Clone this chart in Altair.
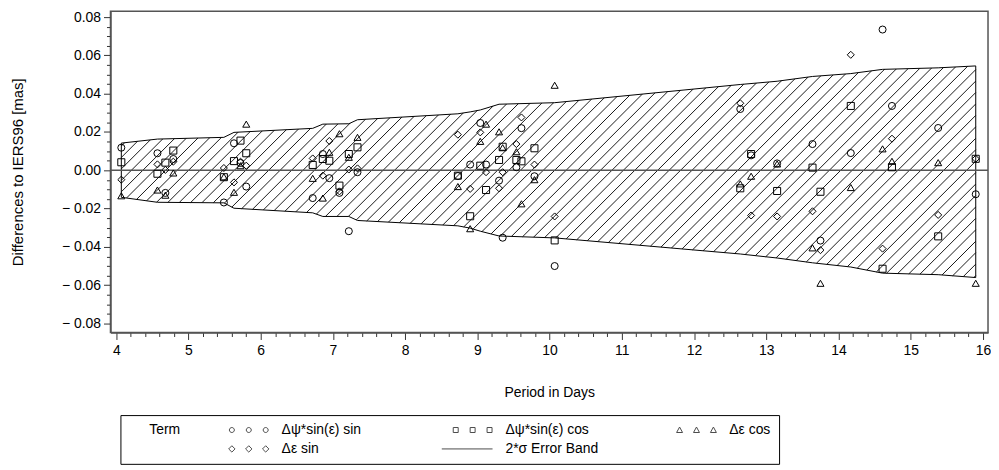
import altair as alt
import numpy as np
import pandas as pd

# ---------------- data ----------------
terms = ["Δψ*sin(ε) sin", "Δψ*sin(ε) cos", "Δε cos", "Δε sin"]

period = [4.07, 4.57, 4.68, 4.79, 5.49, 5.63, 5.72, 5.80, 6.72, 6.86, 6.95, 7.09,
          7.22, 7.34, 8.73, 8.90, 9.04, 9.12, 9.30, 9.35, 9.54, 9.61, 9.79, 10.07,
          12.64, 12.79, 13.15, 13.64, 13.75, 14.17, 14.61, 14.74, 15.38, 15.90]

dpsi_sin = [0.0118, 0.0089, -0.0118, 0.0059, -0.0168, 0.0141, 0.0038, -0.0085,
            -0.0145, 0.0085, -0.0041, -0.0118, -0.0318, -0.0010, -0.0030, 0.0030,
            0.0247, 0.0030, -0.0054, -0.0352, 0.0016, 0.0220, -0.0031, -0.0500,
            0.0320, 0.0078, 0.0036, 0.0137, -0.0367, 0.0090, 0.0735, 0.0336,
            0.0221, -0.0125]

dpsi_cos = [0.0042, -0.0018, 0.0040, 0.0103, -0.0036, 0.0048, 0.0155, 0.0089,
            0.0028, 0.0059, 0.0050, -0.0080, 0.0085, 0.0120, -0.0028, -0.0240,
            0.0024, -0.0103, 0.0054, 0.0123, 0.0054, 0.0047, 0.0115, -0.0366,
            -0.0094, 0.0085, -0.0108, 0.0014, -0.0112, 0.0336, -0.0514, 0.0016,
            -0.0345, 0.0060]

deps_cos = [-0.0133, -0.0103, -0.0130, -0.0014, -0.0034, -0.0115, 0.0024, 0.0241,
            -0.0042, -0.0145, 0.0094, 0.0191, 0.0068, 0.0172, -0.0085, -0.0305,
            0.0151, 0.0241, 0.0201, 0.0118, 0.0097, -0.0175, -0.0049, 0.0444,
            -0.0071, -0.0031, 0.0033, -0.0405, -0.0590, -0.0090, 0.0112, 0.0047,
            0.0040, -0.0590]

deps_sin = [-0.0049, 0.0031, 0.0002, 0.0045, 0.0012, -0.0063, 0.0045, 0.0024,
            0.0062, -0.0028, 0.0153, -0.0110, 0.0004, 0.0010, 0.0186, -0.0097,
            0.0198, -0.0010, -0.0094, -0.0010, 0.0137, 0.0276, 0.0030, -0.0241,
            0.0350, -0.0236, -0.0241, -0.0214, -0.0417, 0.0603, -0.0409, 0.0165,
            -0.0233, 0.0060]

band_x = [4.07, 4.57, 5.49, 5.63, 6.72, 6.86, 7.22, 7.34, 8.73, 8.90, 9.04, 9.30,
          10.07, 12.64, 13.15, 13.64, 14.17, 14.61, 15.38, 15.90]
band_upper = [0.0142, 0.0163, 0.0172, 0.0198, 0.0219, 0.0241, 0.0243, 0.0264, 0.0295,
              0.0305, 0.0315, 0.0345, 0.0353, 0.0448, 0.0465, 0.0490, 0.0505, 0.0527,
              0.0535, 0.0545]
band_lower = [-0.0141, -0.0167, -0.0170, -0.0198, -0.0222, -0.0241, -0.0241, -0.0262,
              -0.0290, -0.0302, -0.0318, -0.0343, -0.0353, -0.0437, -0.0458, -0.0483,
              -0.0505, -0.0537, -0.0545, -0.0560]

x_ticks = [round(v, 1) for v in np.arange(4, 16.0001, 0.2)]
y_ticks = [round(v, 3) for v in np.arange(-0.08, 0.08001, 0.005)]

legend_entries = ["Δψ*sin(ε) sin", "Δψ*sin(ε) cos", "Δε cos", "Δε sin", "2*σ Error Band"]

# ---------------- layout / style ----------------
W, H = 882, 323
XDOM = [3.92, 16.07]
YDOM = [-0.0847, 0.0831]
FONT = "Liberation Sans"

pts = pd.DataFrame({
    "period": period * 4,
    "value": dpsi_sin + dpsi_cos + deps_cos + deps_sin,
    "term": [terms[0]] * len(period) + [terms[1]] * len(period)
            + [terms[2]] * len(period) + [terms[3]] * len(period),
})

outline = pd.DataFrame({
    "x": band_x + band_x[::-1] + [band_x[0]],
    "y": band_upper + band_lower[::-1] + [band_upper[0]],
})
outline["i"] = range(len(outline))

# hatch lines clipped to the band (45 degrees on screen)
px_per_day = W / (XDOM[1] - XDOM[0])
px_per_unit = H / (YDOM[1] - YDOM[0])
slope = px_per_day / px_per_unit * np.tan(np.radians(45))
spacing = 11.5 / px_per_day
xs = np.arange(band_x[0], band_x[-1] + 1e-9, 0.0005)
up = np.interp(xs, band_x, band_upper)
lo = np.interp(xs, band_x, band_lower)
segs = []
c0 = band_x[0] - max(band_upper) / slope - spacing
c1 = band_x[-1] - min(band_lower) / slope + spacing
for xc in np.arange(c0, c1, spacing):
    yy = slope * (xs - xc)
    inside = (yy >= lo) & (yy <= up)
    if not inside.any():
        continue
    d = np.diff(inside.astype(int))
    starts = list(np.where(d == 1)[0] + 1)
    ends = list(np.where(d == -1)[0])
    if inside[0]:
        starts = [0] + starts
    if inside[-1]:
        ends = ends + [len(xs) - 1]
    for s, e in zip(starts, ends):
        if e > s:
            segs.append((xs[s], yy[s], xs[e], yy[e]))
hatch = pd.DataFrame(segs, columns=["x", "y", "x2", "y2"])

xscale = alt.Scale(domain=XDOM, nice=False, zero=False)
yscale = alt.Scale(domain=YDOM, nice=False, zero=False)

x_major = "abs(datum.value - round(datum.value)) < 1e-6"
y_major = "abs(datum.value * 50 - round(datum.value * 50)) < 1e-6"

xaxis = alt.Axis(
    title="Period in Days", values=x_ticks, grid=False,
    labelExpr=f"{x_major} ? format(datum.value, 'd') : ''",
    tickSize={"condition": {"test": x_major, "value": 7}, "value": 4},
    labelOverlap=False, labelFlush=False, labelPadding=4, titlePadding=28,
)
yaxis = alt.Axis(
    title="Differences to IERS96 [mas]", values=y_ticks, grid=False,
    labelExpr=(f"{y_major} ? (datum.value < -1e-9 ? '\u2212 ' + format(-datum.value, '.2f')"
               f" : format(abs(datum.value), '.2f')) : ''"),
    tickSize={"condition": {"test": y_major, "value": 7}, "value": 4},
    labelOverlap=False, labelFlush=False, labelPadding=3, titlePadding=36,
    titleFontSize=15,
)

hatch_layer = alt.Chart(hatch).mark_rule(color="black", strokeWidth=0.9).encode(
    x=alt.X("x:Q", scale=xscale, axis=xaxis),
    y=alt.Y("y:Q", scale=yscale, axis=yaxis),
    x2="x2:Q", y2="y2:Q",
)

outline_layer = alt.Chart(outline).mark_line(color="black", strokeWidth=1).encode(
    x=alt.X("x:Q", scale=xscale, axis=xaxis),
    y=alt.Y("y:Q", scale=yscale, axis=yaxis),
    order="i:Q",
)

zero_layer = alt.Chart(pd.DataFrame({"y": [0.0]})).mark_rule(
    color="#555555", strokeWidth=1.5).encode(y=alt.Y("y:Q", scale=yscale, axis=yaxis))

point_layer = alt.Chart(pts).mark_point(
    filled=False, color="black", size=50, strokeWidth=1, opacity=1).encode(
    x=alt.X("period:Q", scale=xscale, axis=xaxis),
    y=alt.Y("value:Q", scale=yscale, axis=yaxis),
    shape=alt.Shape("term:N", scale=alt.Scale(
        domain=terms, range=["circle", "square", "triangle-up", "diamond"]), legend=None),
)


def triple(shape):
    out = []
    for cx in (14, 31, 48):
        if shape == "circle":
            out.append(f"M{cx - 2.5},0a2.5,2.5 0 1,0 5,0a2.5,2.5 0 1,0 -5,0")
        elif shape == "square":
            out.append(f"M{cx - 2.5},-2.5h5v5h-5z")
        elif shape == "triangle":
            out.append(f"M{cx},-3L{cx + 3},2.5L{cx - 3},2.5Z")
        else:
            out.append(f"M{cx},-3.2L{cx + 3.2},0L{cx},3.2L{cx - 3.2},0Z")
    return "".join(out)


legend_paths = [triple("circle"), triple("square"), triple("triangle"),
                triple("diamond"), "M0,0H51"]

legend_layer = alt.Chart(pd.DataFrame({"entry": legend_entries})).mark_point(
    filled=False, color="black", strokeWidth=1).encode(
    shape=alt.Shape("entry:N", scale=alt.Scale(domain=legend_entries, range=legend_paths),
                    legend=alt.Legend(
                        title="\u200b\u2003\u2002Term", orient="none", legendX=10, legendY=406,
                        direction="horizontal", columns=3, titleOrient="left", titleAnchor="start",
                        titleFont=FONT, titleFontSize=14, titleFontWeight="normal",
                        titleColor="black", titlePadding=30, titleBaseline="top",
                        labelFont=FONT, labelFontSize=14, labelColor="black", labelLimit=0,
                        symbolSize=4, symbolStrokeWidth=1, symbolStrokeColor="black",
                        labelOffset=57, columnPadding=60, rowPadding=5, padding=8,
                        strokeColor="black", fillColor="white", gridAlign="all",
                    )),
).transform_filter("false")

chart = alt.layer(hatch_layer, outline_layer, zero_layer, point_layer, legend_layer).resolve_scale(
    shape="independent"
).properties(
    width=W, height=H, padding={"left": 2, "top": 0, "right": 0, "bottom": 0},
).configure_view(
    stroke="#555555", strokeWidth=1.5,
).configure_axis(
    labelFont=FONT, titleFont=FONT, labelFontSize=14, titleFontSize=14,
    titleFontWeight="normal", labelColor="black", titleColor="black",
    domainColor="#555555", domainWidth=1.5, tickColor="#333333", tickWidth=1,
)

chart.save("out.html", embed_options={"renderer": "svg", "actions": False})
